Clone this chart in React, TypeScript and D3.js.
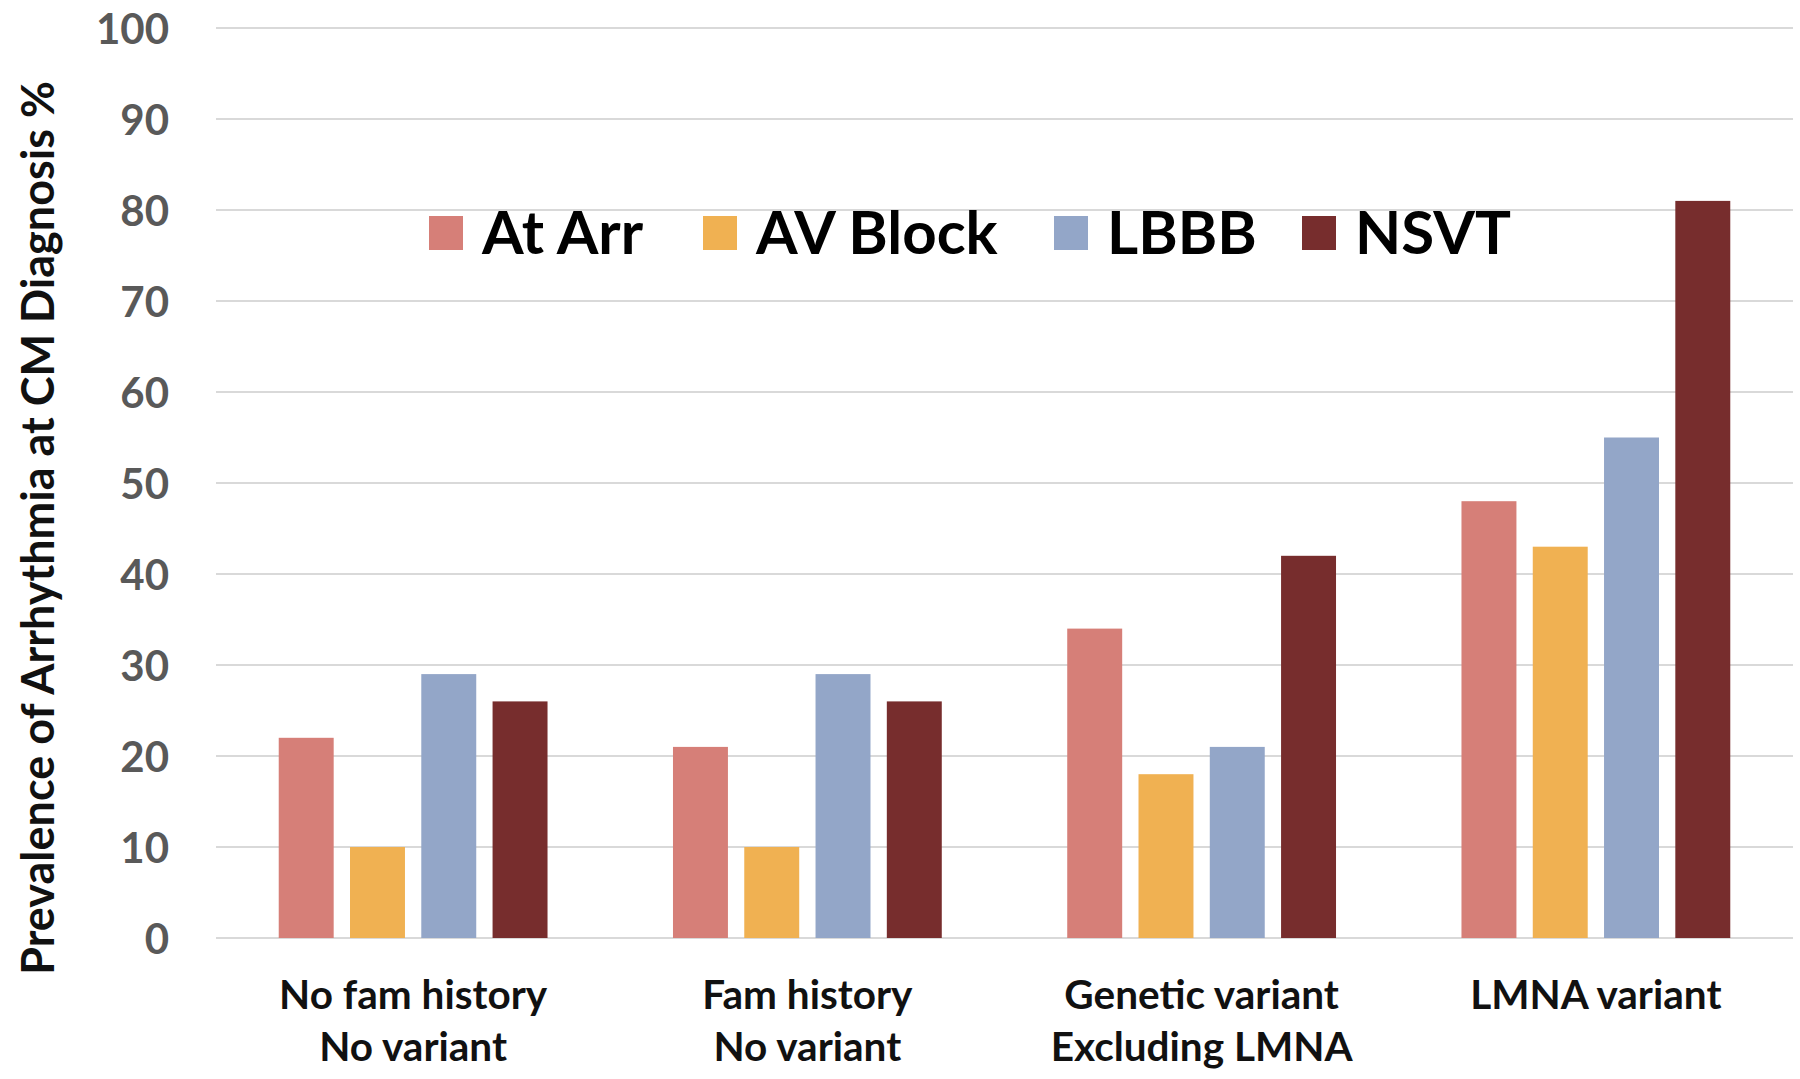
import React from "react";
import * as d3 from "d3";

const categories = [
  ["No fam history", "No variant"],
  ["Fam history", "No variant"],
  ["Genetic variant", "Excluding LMNA"],
  ["LMNA variant"],
];
const seriesNames = ["At Arr", "AV Block", "LBBB", "NSVT"];
const seriesColors = ["#D67F78", "#F0B152", "#93A6C8", "#772D2D"];
const atArr = [22, 21, 34, 48];
const avBlock = [10, 10, 18, 43];
const lbbb = [29, 29, 21, 55];
const nsvt = [26, 26, 42, 81];
const yTicks = [0, 10, 20, 30, 40, 50, 60, 70, 80, 90, 100];
const yTitle = "Prevalence of Arrhythmia at CM Diagnosis %";

const W = 1800;
const H = 1079;
const FONT = "Lato, 'Open Sans', sans-serif";

export default function App() {
  const values = [atArr, avBlock, lbbb, nsvt];
  const x0 = d3.scaleBand<number>().domain(d3.range(categories.length)).range([216, 1793]);
  const x1 = d3
    .scaleBand<number>()
    .domain(d3.range(seriesNames.length))
    .range([0, x0.bandwidth()])
    .paddingInner(0.229)
    .paddingOuter(0.88);
  const y = d3.scaleLinear().domain([0, 100]).range([938, 28]);

  const legendX = [429, 703, 1054, 1302];

  return (
    <svg
      width={W}
      height={H}
      style={{ position: "absolute", left: 0, top: 0, background: "#fff" }}
      fontFamily={FONT}
    >
      {yTicks.map((t) => (
        <g key={t}>
          <line x1={216} x2={1793} y1={y(t)} y2={y(t)} stroke="#d9d9d9" strokeWidth={2} />
          <text
            x={169}
            y={y(t)}
            textAnchor="end"
            dominantBaseline="central"
            fontSize={42}
            fontWeight={700}
            fill="#595959"
          >
            {t}
          </text>
        </g>
      ))}
      {categories.map((c, ci) => (
        <g key={ci} transform={`translate(${x0(ci)},0)`}>
          {values.map((vals, si) => (
            <rect
              key={si}
              x={x1(si)}
              y={y(vals[ci])}
              width={x1.bandwidth()}
              height={y(0) - y(vals[ci])}
              fill={seriesColors[si]}
            />
          ))}
          {c.map((line, li) => (
            <text
              key={li}
              x={x0.bandwidth() / 2}
              y={993 + li * 52}
              textAnchor="middle"
              dominantBaseline="central"
              fontSize={40.5}
              fontWeight={700}
              fill="#111"
            >
              {line}
            </text>
          ))}
        </g>
      ))}
      {seriesNames.map((s, si) => (
        <g key={s}>
          <rect x={legendX[si]} y={216} width={34} height={34} fill={seriesColors[si]} />
          <text
            x={legendX[si] + 53}
            y={231}
            dominantBaseline="central"
            fontSize={60}
            fontWeight={700}
            fill="#000"
          >
            {s}
          </text>
        </g>
      ))}
      <text
        transform={`translate(37,528) rotate(-90)`}
        textAnchor="middle"
        dominantBaseline="central"
        fontSize={45}
        fontWeight={700}
        fill="#111"
      >
        {yTitle}
      </text>
    </svg>
  );
}
